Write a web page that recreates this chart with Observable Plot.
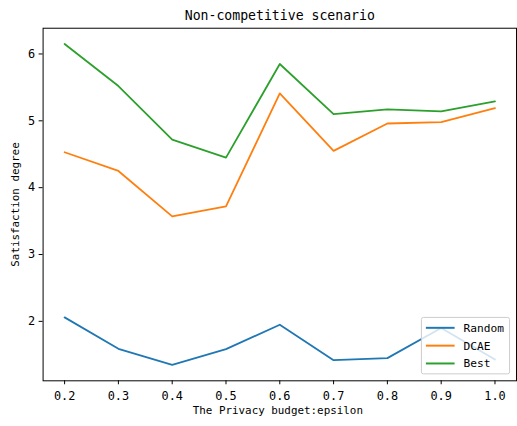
<!DOCTYPE html>
<html>
<head>
<meta charset="utf-8">
<script src="https://cdn.jsdelivr.net/npm/d3@7"></script>
<script src="https://cdn.jsdelivr.net/npm/@observablehq/plot@0.6"></script>
<style>
  html, body { margin: 0; padding: 0; background: #fff; overflow: hidden; }
  #chart { position: relative; width: 517px; height: 426px; overflow: hidden; }
</style>
</head>
<body>
<div id="chart"></div>
<script>
const epsilon = [0.2, 0.3, 0.4, 0.5, 0.6, 0.7, 0.8, 0.9, 1.0];
const randomVals = [2.06, 1.59, 1.35, 1.585, 1.95, 1.42, 1.45, 1.90, 1.43];
const dcaeVals   = [4.53, 4.25, 3.57, 3.72, 5.41, 4.55, 4.96, 4.98, 5.19];
const bestVals   = [6.15, 5.52, 4.72, 4.45, 5.85, 5.10, 5.17, 5.14, 5.29];
const seriesNames = ["Random", "DCAE", "Best"];
const seriesColors = ["#1f77b4", "#ff7f0e", "#2ca02c"];
const xTicks = [0.2, 0.3, 0.4, 0.5, 0.6, 0.7, 0.8, 0.9, 1.0];
const yTicks = [2, 3, 4, 5, 6];
const titleText = "Non-competitive scenario";
const xLabel = "The Privacy budget:epsilon";
const yLabel = "Satisfaction degree";

const seriesValues = [randomVals, dcaeVals, bestVals];
const rows = [];
seriesNames.forEach((name, i) => {
  epsilon.forEach((e, j) => rows.push({series: name, x: e, y: seriesValues[i][j]}));
});

const font = "'DejaVu Sans Mono', monospace";

const plot = Plot.plot({
  width: 522,
  height: 426,
  marginLeft: 43,
  marginRight: 1,
  marginTop: 28,
  marginBottom: 42,
  style: {fontFamily: font, fontSize: "11px", color: "#000", background: "#fff"},
  x: {domain: [0.16, 1.04]},
  y: {domain: [1.111, 6.385]},
  color: {domain: seriesNames, range: seriesColors},
  marks: [
    Plot.axisX({ticks: xTicks, tickFormat: d => d.toFixed(1), tickSize: 4, tickPadding: 7, label: null, fontSize: 12}),
    Plot.axisY({ticks: yTicks, tickFormat: d => String(d), tickSize: 4, tickPadding: 4, label: null, fontSize: 12}),
    Plot.lineY(rows, {x: "x", y: "y", stroke: "series", z: "series", strokeWidth: 1.8}),
    Plot.frame({stroke: "#000", strokeWidth: 1}),
    Plot.text([titleText], {frameAnchor: "top", lineAnchor: "middle", dy: -13, text: d => d, fontSize: 13.3, fill: "#000"}),
    Plot.text([xLabel], {frameAnchor: "bottom", lineAnchor: "middle", textAnchor: "middle", dy: 30, dx: -2, text: d => d, fontSize: 11, fill: "#000"}),
    Plot.text([yLabel], {frameAnchor: "left", lineAnchor: "middle", textAnchor: "middle", dx: -28, rotate: -90, text: d => d, fontSize: 11, fill: "#000"})
  ]
});

document.getElementById("chart").appendChild(plot);

// Legend (bottom-right inside the axes)
const svg = d3.select(plot);
const lg = svg.append("g").attr("transform", "translate(425,320)");
lg.append("rect").attr("x", 0.5).attr("y", 0.5).attr("width", 89).attr("height", 57)
  .attr("rx", 2).attr("fill", "rgba(255,255,255,0.8)").attr("stroke", "#ccc");
seriesNames.forEach((name, i) => {
  const yy = 11 + i * 18;
  lg.append("line").attr("x1", 5).attr("x2", 34).attr("y1", yy).attr("y2", yy)
    .attr("stroke", seriesColors[i]).attr("stroke-width", 2);
  lg.append("text").attr("x", 43).attr("y", yy).attr("dy", "0.35em")
    .attr("text-anchor", "start")
    .attr("font-family", font).attr("font-size", 11.3).attr("fill", "#000").text(name);
});
</script>
</body>
</html>
